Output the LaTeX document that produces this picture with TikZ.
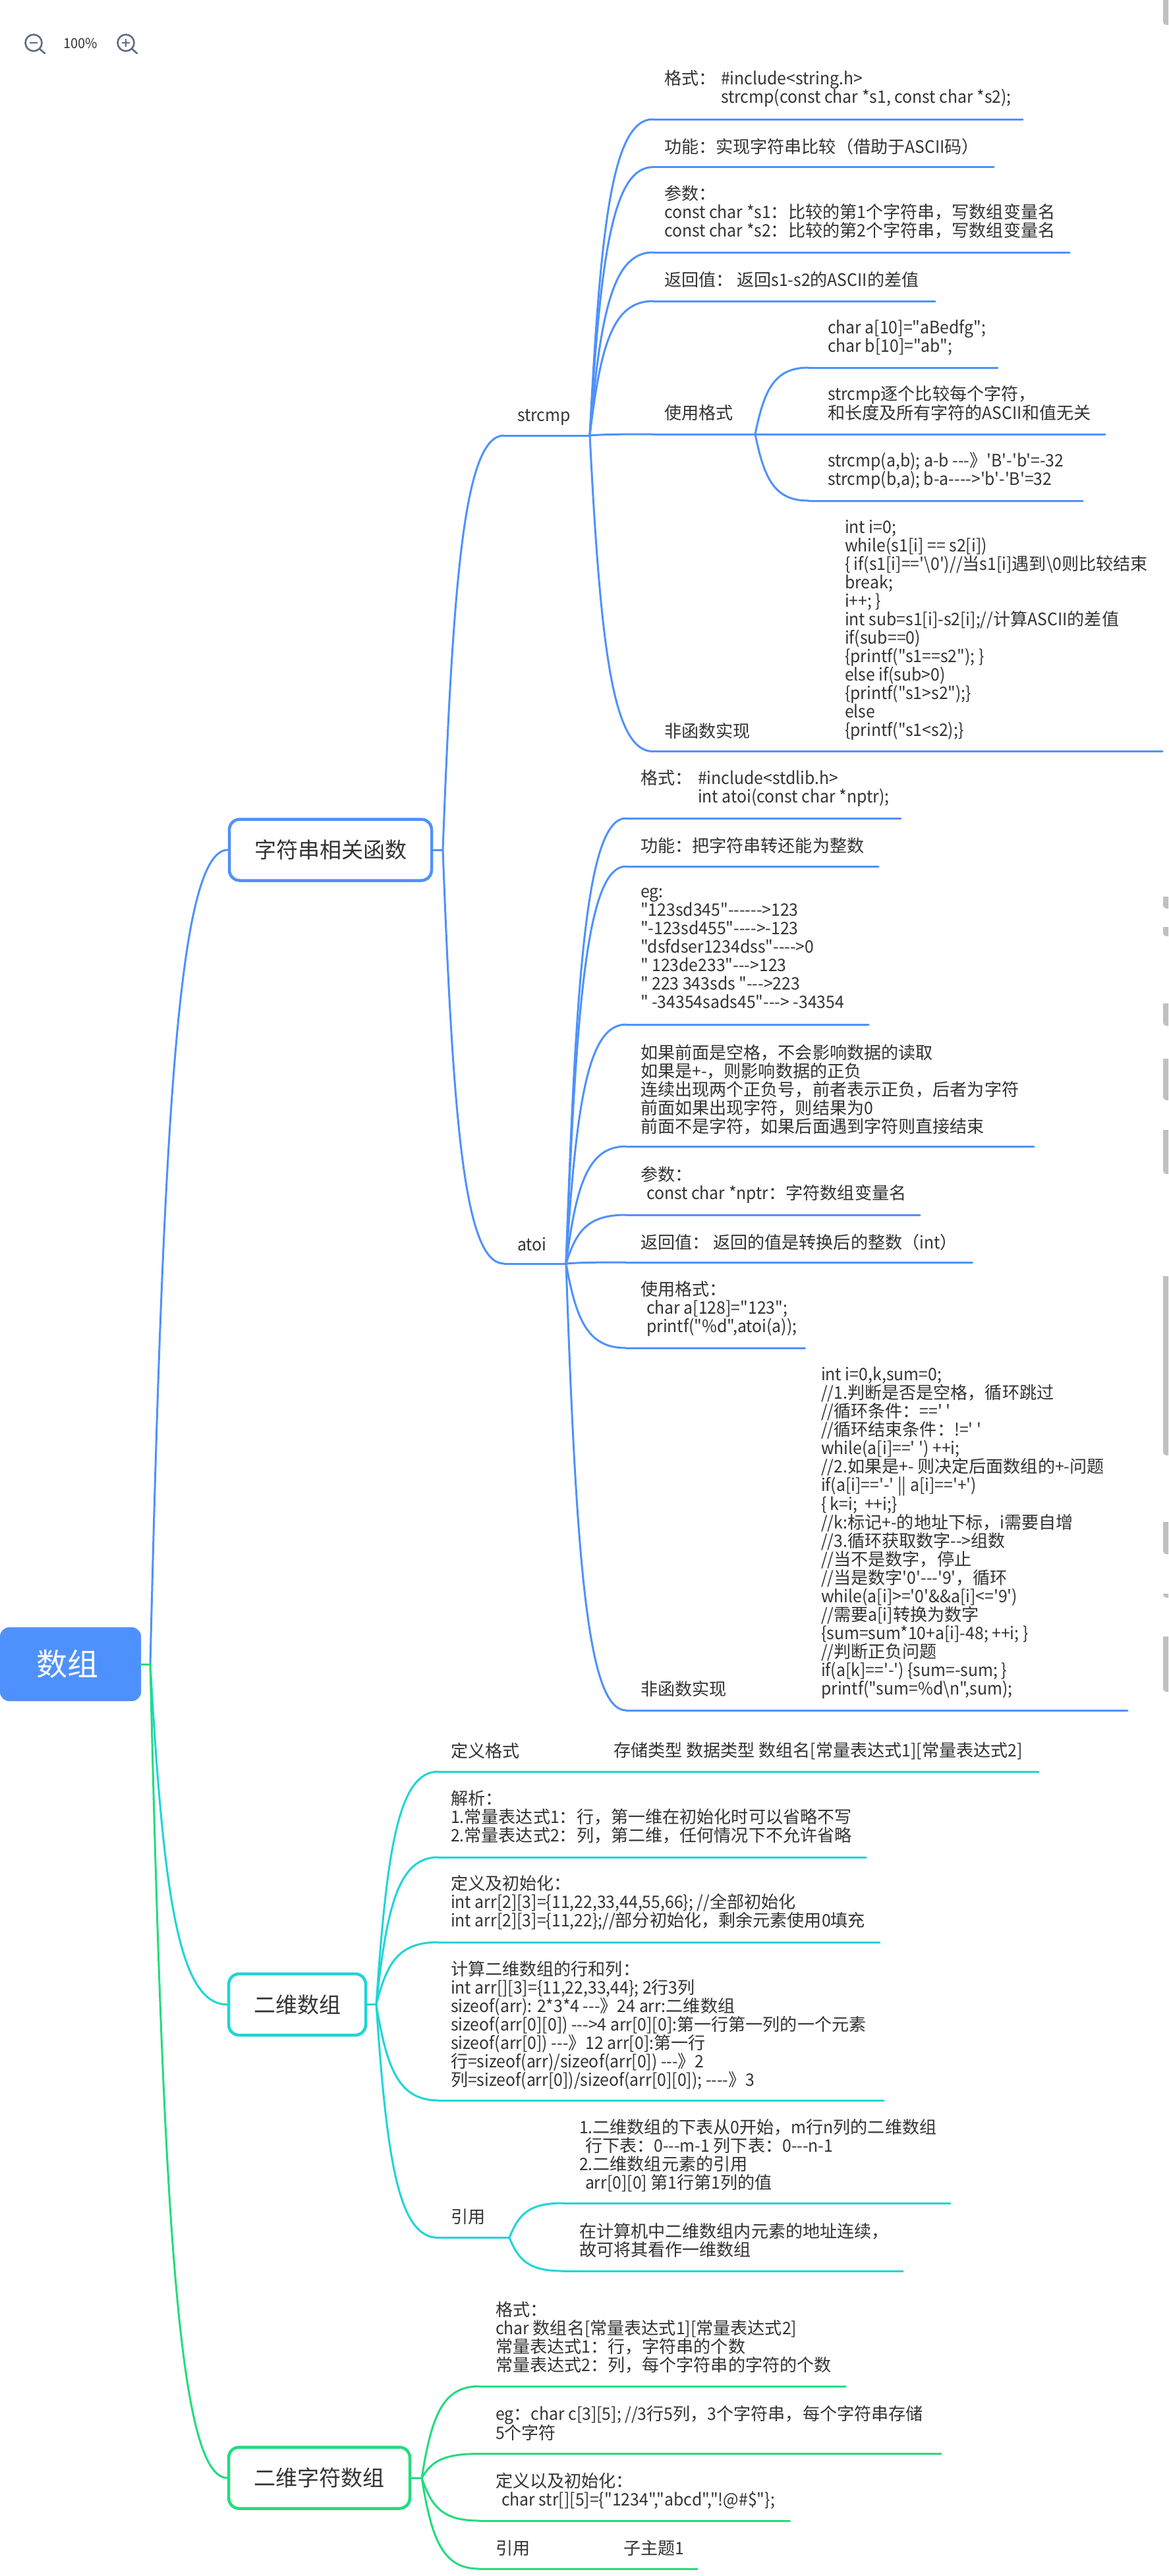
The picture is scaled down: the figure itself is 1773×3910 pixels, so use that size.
\documentclass[tikz,border=0pt]{standalone}
\usepackage{fontspec}
\usetikzlibrary{calc}
\newfontfamily\cnf{Noto Sans CJK SC}
\newfontfamily\ltf{Noto Sans CJK SC}[FakeStretch=0.95]
\XeTeXinterchartokenstate=1
\newXeTeXintercharclass\cjkcls
\newcount\ccnt
\ccnt="2E80
\loop\XeTeXcharclass\ccnt=\cjkcls\advance\ccnt by 1\ifnum\ccnt<"A000 \repeat
\ccnt="FF00
\loop\XeTeXcharclass\ccnt=\cjkcls\advance\ccnt by 1\ifnum\ccnt<"FFF0 \repeat
\XeTeXinterchartoks 0 \cjkcls = {\cnf}
\XeTeXinterchartoks \cjkcls 0 = {\ltf}
\XeTeXinterchartoks 4095 \cjkcls = {\cnf}
\XeTeXinterchartoks 4095 0 = {\ltf}
\definecolor{cblue}{HTML}{4F91FC}
\definecolor{cteal}{HTML}{1FD5D5}
\definecolor{cgreen}{HTML}{22DC7C}
\definecolor{ctext}{HTML}{333333}
\definecolor{cicon}{HTML}{5F6B82}
\definecolor{cmark}{HTML}{C0C0C0}
\newcommand\st{\rule[-4pt]{0pt}{28pt}}
\tikzset{
  txt/.style={font=\cnf\fontsize{26.1}{28}\selectfont,text=ctext,anchor=west,inner sep=0pt,outer sep=0pt,align=left,execute at begin node=\st,execute at end node=\st},
  topic/.style={font=\cnf\fontsize{33}{38}\selectfont,text=ctext,draw=#1,line width=4.5pt,rounded corners=16pt,inner sep=0pt,minimum height=93pt},
  wire/.style={draw=#1,line width=3pt,line cap=round,line join=round},
}
% curved connector from a junction to a named end coordinate
\newcommand\curveto[3]{%
  \path let \p1=(#2),\p2=(#3) in
    coordinate (ctlA) at (\x1+0.17*\x2-0.17*\x1,\y1+0.67*\y2-0.67*\y1)
    coordinate (ctlB) at (\x1+0.36*\x2-0.36*\x1,\y2);
  \draw[wire=#1] (#2) .. controls (ctlA) and (ctlB) .. (#3);}
% leaf: colour, junction, name, start x, y, end x
\newcommand\twig[6]{%
  \coordinate (#3s) at (#4,#5);
  \coordinate (#3e) at (#6,#5);
  \curveto{#1}{#2}{#3s}
  \draw[wire=#1] (#3s) -- (#3e);}
\begin{document}
\begin{tikzpicture}[x=1pt,y=-1pt]
\useasboundingbox (0,0) rectangle (1773,3910);
% zoom controls
\draw[cicon,line width=2.6pt] (51,65) circle (12.5);
\draw[cicon,line width=2.6pt,line cap=round] (60,74) -- (68,81);
\draw[cicon,line width=2.6pt] (45,65) -- (57,65);
\node[font=\cnf\fontsize{21}{24}\selectfont,text=ctext,inner sep=0pt] (pct) at (122.5,66) {100\%};
\draw[cicon,line width=2.6pt] (191,65) circle (12.5);
\draw[cicon,line width=2.6pt,line cap=round] (200,74) -- (208,81);
\draw[cicon,line width=2.6pt] (185,65) -- (197,65) (191,59) -- (191,71);
% scrollbar fragments at the right edge
\foreach \a/\b in {0/38,1361/1379,1407/1421,1523/1557,1607/1670,1715/1782,1937/2209,2310/2359,2419/2425,2484/2568}
  \fill[cmark] (1773,\a) -- (1765,\a) [rounded corners=5pt] -- (1765,\b) [sharp corners] -- (1773,\b) -- cycle;
% main topics
\node[fill=cblue,text=white,rounded corners=14pt,inner sep=0pt,minimum width=214pt,minimum height=112pt,font=\cnf\fontsize{47}{52}\selectfont] (root) at (107,2526) {\kern-9pt 数组};
\node[topic=cblue,minimum width=307pt] (n1) at (501.5,1290) {字符串相关函数};
\node[topic=cteal,minimum width=208pt] (n2) at (451,3042.5) {二维数组};
\node[topic=cgreen,minimum width=275pt] (n3) at (484.5,3761) {二维字符数组};
\coordinate (jr) at (228,2526);
\coordinate (j1) at (672,1290);
\coordinate (j2) at (571,3042.5);
\coordinate (j3) at (640,3761);
% first level connectors
\curveto{cblue}{jr}{n1.west}
\draw[wire=cblue] (n1.east) -- (j1);
\curveto{cteal}{jr}{n2.west}
\draw[wire=cteal] (n2.east) -- (j2);
\curveto{cgreen}{jr}{n3.west}
\draw[wire=cgreen] (n3.east) -- (j3);
\draw[wire=cgreen] (root.east) -- (jr);
% strcmp / atoi
\twig{cblue}{j1}{strcmp}{765}{661}{895}
\twig{cblue}{j1}{atoi}{765}{1918}{859}
\coordinate (js) at (895,661);
\coordinate (ja) at (859,1918);
\node[txt] (tstrcmp) at (785,630) {strcmp};
\node[txt] (tatoi) at (785,1888) {atoi};
% strcmp leaves
\twig{cblue}{js}{sa}{991}{181}{1552}
\twig{cblue}{js}{sb}{991}{253.6}{1508}
\twig{cblue}{js}{sc}{991}{383}{1623}
\twig{cblue}{js}{sd}{991}{457}{1419}
\twig{cblue}{js}{se}{991}{659}{1146}
\twig{cblue}{js}{sf}{991}{1140.6}{1764}
\coordinate (ju) at (1146,659);
\twig{cblue}{ju}{ua}{1227}{558}{1514}
\twig{cblue}{ju}{ub}{1227}{659}{1677}
\twig{cblue}{ju}{uc}{1227}{760}{1643}
\node[txt] (ts1) at (1008,135) {\makebox[86pt][l]{格式：}\#include<string.h>\\\hspace*{86pt}strcmp(const char *s1, const char *s2);};
\node[txt] (ts2) at (1008,222) {功能：实现字符串比较（借助于ASCII码）};
\node[txt] (ts3) at (1008,322.5) {参数：\\const char *s1：比较的第1个字符串，写数组变量名\\const char *s2：比较的第2个字符串，写数组变量名};
\node[txt] (ts4) at (1008,424) {返回值：\ 返回s1-s2的ASCII的差值};
\node[txt] (ts5) at (1008,626.5) {使用格式};
\node[txt] (tu1) at (1256,512.5) {char a[10]="aBedfg";\\char b[10]="ab";};
\node[txt] (tu2) at (1256,613) {strcmp逐个比较每个字符，\\和长度及所有字符的ASCII和值无关};
\node[txt] (tu3) at (1256,714.5) {strcmp(a,b); a-b ---》'B'-'b'=-32\\strcmp(b,a); b-a---->'b'-'B'=32};
\node[txt] (ts6) at (1008,1109) {非函数实现};
\node[txt] (ts7) at (1282,956) {int i=0;\\while(s1[i] == s2[i])\\\{ if(s1[i]=='\textbackslash 0')//当s1[i]遇到\textbackslash 0则比较结束\\break;\\i++; \}\\int sub=s1[i]-s2[i];//计算ASCII的差值\\if(sub==0)\\\{printf("s1==s2"); \}\\else if(sub>0)\\\{printf("s1>s2");\}\\else\\\{printf("s1<s2);\}};
% atoi leaves
\twig{cblue}{ja}{aa}{950}{1242}{1367}
\twig{cblue}{ja}{ab}{950}{1315}{1333}
\twig{cblue}{ja}{ac}{950}{1555}{1318}
\twig{cblue}{ja}{ad}{950}{1740}{1569}
\twig{cblue}{ja}{ae}{950}{1844}{1396}
\twig{cblue}{ja}{af}{950}{1916}{1475.5}
\twig{cblue}{ja}{ag}{950}{2046}{1221.5}
\twig{cblue}{ja}{ah}{950}{2596}{1711}
\node[txt] (ta1) at (972,1196) {\makebox[87pt][l]{格式：}\#include<stdlib.h>\\\hspace*{87pt}int atoi(const char *nptr);};
\node[txt] (ta2) at (972,1283) {功能：把字符串转还能为整数};
\node[txt] (ta3) at (972,1441.5) {eg:\\"123sd345"------>123\\"-123sd455"---->-123\\"dsfdser1234dss"---->0\\" 123de233"--->123\\" 223 343sds "--->223\\" -34354sads45"---> -34354};
\node[txt] (ta4) at (972,1654.6) {如果前面是空格，不会影响数据的读取\\如果是+-，则影响数据的正负\\连续出现两个正负号，前者表示正负，后者为字符\\前面如果出现字符，则结果为0\\前面不是字符，如果后面遇到字符则直接结束};
\node[txt] (ta5) at (972,1798) {参数：\\\hspace*{9pt}const char *nptr：字符数组变量名};
\node[txt] (ta6) at (972,1885) {返回值：\ 返回的值是转换后的整数（int）};
\node[txt] (ta7) at (972,1986.5) {使用格式：\\\hspace*{9pt}char a[128]="123";\\\hspace*{9pt}printf("\%d",atoi(a));};
\node[txt] (ta8) at (972,2563) {非函数实现};
\node[txt] (ta9) at (1246,2326.5) {int i=0,k,sum=0;\\//1.判断是否是空格，循环跳过\\//循环条件：=='\ '\\//循环结束条件：!='\ '\\while(a[i]==' ') ++i;\\//2.如果是+- 则决定后面数组的+-问题\\if(a[i]=='-' || a[i]=='+')\\\{ k=i;\ \ ++i;\}\\//k:标记+-的地址下标，i需要自增\\//3.循环获取数字-->组数\\//当不是数字，停止\\//当是数字'0'---'9'，循环\\while(a[i]>='0'\&\&a[i]<='9')\\//需要a[i]转换为数字\\\{sum=sum*10+a[i]-48; ++i; \}\\//判断正负问题\\if(a[k]=='-') \{sum=-sum; \}\\printf("sum=\%d\textbackslash n",sum);};
% two-dimensional array
\twig{cteal}{j2}{ba}{665}{2689}{1576}
\twig{cteal}{j2}{bb}{665}{2819}{1314}
\twig{cteal}{j2}{bc}{665}{2948}{1335}
\twig{cteal}{j2}{bd}{665}{3188}{1341}
\twig{cteal}{j2}{be}{665}{3396.5}{773}
\coordinate (jy) at (773,3396.5);
\twig{cteal}{jy}{ya}{854}{3344}{1442}
\twig{cteal}{jy}{yb}{854}{3447}{1370}
\node[txt] (tb1) at (684,2657) {定义格式};
\node[txt] (tb1r) at (931,2657) {存储类型 数据类型 数组名[常量表达式1][常量表达式2]};
\node[txt] (tb2) at (684,2758) {解析：\\1.常量表达式1：行，第一维在初始化时可以省略不写\\2.常量表达式2：列，第二维，任何情况下不允许省略};
\node[txt] (tb3) at (684,2887.5) {定义及初始化：\\int arr[2][3]=\{11,22,33,44,55,66\}; //全部初始化\\int arr[2][3]=\{11,22\};//部分初始化，剩余元素使用0填充};
\node[txt] (tb4) at (684,3074) {计算二维数组的行和列：\\int arr[][3]=\{11,22,33,44\}; 2行3列\\sizeof(arr): 2*3*4 ---》24 arr:二维数组\\sizeof(arr[0][0]) --->4 arr[0][0]:第一行第一列的一个元素\\sizeof(arr[0]) ---》12 arr[0]:第一行\\行=sizeof(arr)/sizeof(arr[0]) ---》2\\列=sizeof(arr[0])/sizeof(arr[0][0]); ----》3};
\node[txt] (tb5) at (684,3364) {引用};
\node[txt] (ty1) at (879,3272) {1.二维数组的下表从0开始，m行n列的二维数组\\\hspace*{9pt}行下表：0---m-1 列下表：0---n-1\\2.二维数组元素的引用\\\hspace*{9pt}arr[0][0] 第1行第1列的值};
\node[txt] (ty2) at (879,3401.5) {在计算机中二维数组内元素的地址连续，\\故可将其看作一维数组};
% two-dimensional char array
\twig{cgreen}{j3}{ca}{727}{3622}{1283}
\twig{cgreen}{j3}{cb}{727}{3724.5}{1428}
\twig{cgreen}{j3}{cc}{727}{3826}{1198.5}
\twig{cgreen}{j3}{cd}{727}{3899}{1058}
\node[txt] (tc1) at (752,3548.5) {格式：\\char 数组名[常量表达式1][常量表达式2]\\常量表达式1：行，字符串的个数\\常量表达式2：列，每个字符串的字符的个数};
\node[txt] (tc2) at (752,3679) {eg：char c[3][5]; //3行5列，3个字符串，每个字符串存储\\5个字符};
\node[txt] (tc3) at (752,3780.5) {定义以及初始化：\\\hspace*{9pt}char str[][5]=\{"1234","abcd","!@\#\$"\};};
\node[txt] (tc4) at (752,3867) {引用};
\node[txt] (tc4r) at (946,3867) {子主题1};
\end{tikzpicture}
\end{document}
